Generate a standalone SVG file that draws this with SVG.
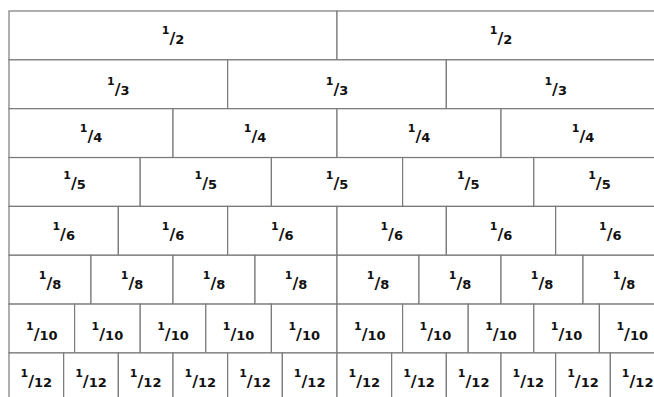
<svg xmlns="http://www.w3.org/2000/svg" width="654" height="397" viewBox="0 0 654 397">
<style>
.c{fill:#fff;stroke:#7a7a7a;stroke-width:1.2}
.t{font-family:"DejaVu Sans",Verdana,sans-serif;font-weight:bold;fill:#111;text-anchor:middle;font-size:13px}
.n{font-size:11px}
.s{font-size:16px}
</style>
<rect width="654" height="397" fill="#fff"/>
<g id="row2">
<g id="r2c1"><rect class="c" x="9" y="11" width="328" height="48.85"/><text class="t" x="173" y="44"><tspan class="n" dy="-10">1</tspan><tspan class="s" dy="10">/</tspan>2</text></g>
<g id="r2c2"><rect class="c" x="337" y="11" width="328" height="48.85"/><text class="t" x="501" y="44"><tspan class="n" dy="-10">1</tspan><tspan class="s" dy="10">/</tspan>2</text></g>
</g>
<g id="row3">
<g id="r3c1"><rect class="c" x="9" y="59.85" width="218.67" height="48.85"/><text class="t" x="118.33" y="95"><tspan class="n" dy="-10">1</tspan><tspan class="s" dy="10">/</tspan>3</text></g>
<g id="r3c2"><rect class="c" x="227.67" y="59.85" width="218.67" height="48.85"/><text class="t" x="337" y="95"><tspan class="n" dy="-10">1</tspan><tspan class="s" dy="10">/</tspan>3</text></g>
<g id="r3c3"><rect class="c" x="446.33" y="59.85" width="218.67" height="48.85"/><text class="t" x="555.67" y="95"><tspan class="n" dy="-10">1</tspan><tspan class="s" dy="10">/</tspan>3</text></g>
</g>
<g id="row4">
<g id="r4c1"><rect class="c" x="9" y="108.7" width="164" height="48.85"/><text class="t" x="91" y="141.7"><tspan class="n" dy="-10">1</tspan><tspan class="s" dy="10">/</tspan>4</text></g>
<g id="r4c2"><rect class="c" x="173" y="108.7" width="164" height="48.85"/><text class="t" x="255" y="141.7"><tspan class="n" dy="-10">1</tspan><tspan class="s" dy="10">/</tspan>4</text></g>
<g id="r4c3"><rect class="c" x="337" y="108.7" width="164" height="48.85"/><text class="t" x="419" y="141.7"><tspan class="n" dy="-10">1</tspan><tspan class="s" dy="10">/</tspan>4</text></g>
<g id="r4c4"><rect class="c" x="501" y="108.7" width="164" height="48.85"/><text class="t" x="583" y="141.7"><tspan class="n" dy="-10">1</tspan><tspan class="s" dy="10">/</tspan>4</text></g>
</g>
<g id="row5">
<g id="r5c1"><rect class="c" x="9" y="157.55" width="131.2" height="48.85"/><text class="t" x="74.6" y="189.3"><tspan class="n" dy="-10">1</tspan><tspan class="s" dy="10">/</tspan>5</text></g>
<g id="r5c2"><rect class="c" x="140.2" y="157.55" width="131.2" height="48.85"/><text class="t" x="205.8" y="189.3"><tspan class="n" dy="-10">1</tspan><tspan class="s" dy="10">/</tspan>5</text></g>
<g id="r5c3"><rect class="c" x="271.4" y="157.55" width="131.2" height="48.85"/><text class="t" x="337" y="189.3"><tspan class="n" dy="-10">1</tspan><tspan class="s" dy="10">/</tspan>5</text></g>
<g id="r5c4"><rect class="c" x="402.6" y="157.55" width="131.2" height="48.85"/><text class="t" x="468.2" y="189.3"><tspan class="n" dy="-10">1</tspan><tspan class="s" dy="10">/</tspan>5</text></g>
<g id="r5c5"><rect class="c" x="533.8" y="157.55" width="131.2" height="48.85"/><text class="t" x="599.4" y="189.3"><tspan class="n" dy="-10">1</tspan><tspan class="s" dy="10">/</tspan>5</text></g>
</g>
<g id="row6">
<g id="r6c1"><rect class="c" x="9" y="206.4" width="109.33" height="48.85"/><text class="t" x="63.67" y="240"><tspan class="n" dy="-10">1</tspan><tspan class="s" dy="10">/</tspan>6</text></g>
<g id="r6c2"><rect class="c" x="118.33" y="206.4" width="109.33" height="48.85"/><text class="t" x="173" y="240"><tspan class="n" dy="-10">1</tspan><tspan class="s" dy="10">/</tspan>6</text></g>
<g id="r6c3"><rect class="c" x="227.67" y="206.4" width="109.33" height="48.85"/><text class="t" x="282.33" y="240"><tspan class="n" dy="-10">1</tspan><tspan class="s" dy="10">/</tspan>6</text></g>
<g id="r6c4"><rect class="c" x="337" y="206.4" width="109.33" height="48.85"/><text class="t" x="391.67" y="240"><tspan class="n" dy="-10">1</tspan><tspan class="s" dy="10">/</tspan>6</text></g>
<g id="r6c5"><rect class="c" x="446.33" y="206.4" width="109.33" height="48.85"/><text class="t" x="501" y="240"><tspan class="n" dy="-10">1</tspan><tspan class="s" dy="10">/</tspan>6</text></g>
<g id="r6c6"><rect class="c" x="555.67" y="206.4" width="109.33" height="48.85"/><text class="t" x="610.33" y="240"><tspan class="n" dy="-10">1</tspan><tspan class="s" dy="10">/</tspan>6</text></g>
</g>
<g id="row8">
<g id="r8c1"><rect class="c" x="9" y="255.25" width="82" height="48.85"/><text class="t" x="50" y="289.3"><tspan class="n" dy="-10">1</tspan><tspan class="s" dy="10">/</tspan>8</text></g>
<g id="r8c2"><rect class="c" x="91" y="255.25" width="82" height="48.85"/><text class="t" x="132" y="289.3"><tspan class="n" dy="-10">1</tspan><tspan class="s" dy="10">/</tspan>8</text></g>
<g id="r8c3"><rect class="c" x="173" y="255.25" width="82" height="48.85"/><text class="t" x="214" y="289.3"><tspan class="n" dy="-10">1</tspan><tspan class="s" dy="10">/</tspan>8</text></g>
<g id="r8c4"><rect class="c" x="255" y="255.25" width="82" height="48.85"/><text class="t" x="296" y="289.3"><tspan class="n" dy="-10">1</tspan><tspan class="s" dy="10">/</tspan>8</text></g>
<g id="r8c5"><rect class="c" x="337" y="255.25" width="82" height="48.85"/><text class="t" x="378" y="289.3"><tspan class="n" dy="-10">1</tspan><tspan class="s" dy="10">/</tspan>8</text></g>
<g id="r8c6"><rect class="c" x="419" y="255.25" width="82" height="48.85"/><text class="t" x="460" y="289.3"><tspan class="n" dy="-10">1</tspan><tspan class="s" dy="10">/</tspan>8</text></g>
<g id="r8c7"><rect class="c" x="501" y="255.25" width="82" height="48.85"/><text class="t" x="542" y="289.3"><tspan class="n" dy="-10">1</tspan><tspan class="s" dy="10">/</tspan>8</text></g>
<g id="r8c8"><rect class="c" x="583" y="255.25" width="82" height="48.85"/><text class="t" x="624" y="289.3"><tspan class="n" dy="-10">1</tspan><tspan class="s" dy="10">/</tspan>8</text></g>
</g>
<g id="row10">
<g id="r10c1"><rect class="c" x="9" y="304.1" width="65.6" height="48.85"/><text class="t" x="41.8" y="340"><tspan class="n" dy="-10">1</tspan><tspan class="s" dy="10">/</tspan>10</text></g>
<g id="r10c2"><rect class="c" x="74.6" y="304.1" width="65.6" height="48.85"/><text class="t" x="107.4" y="340"><tspan class="n" dy="-10">1</tspan><tspan class="s" dy="10">/</tspan>10</text></g>
<g id="r10c3"><rect class="c" x="140.2" y="304.1" width="65.6" height="48.85"/><text class="t" x="173" y="340"><tspan class="n" dy="-10">1</tspan><tspan class="s" dy="10">/</tspan>10</text></g>
<g id="r10c4"><rect class="c" x="205.8" y="304.1" width="65.6" height="48.85"/><text class="t" x="238.6" y="340"><tspan class="n" dy="-10">1</tspan><tspan class="s" dy="10">/</tspan>10</text></g>
<g id="r10c5"><rect class="c" x="271.4" y="304.1" width="65.6" height="48.85"/><text class="t" x="304.2" y="340"><tspan class="n" dy="-10">1</tspan><tspan class="s" dy="10">/</tspan>10</text></g>
<g id="r10c6"><rect class="c" x="337" y="304.1" width="65.6" height="48.85"/><text class="t" x="369.8" y="340"><tspan class="n" dy="-10">1</tspan><tspan class="s" dy="10">/</tspan>10</text></g>
<g id="r10c7"><rect class="c" x="402.6" y="304.1" width="65.6" height="48.85"/><text class="t" x="435.4" y="340"><tspan class="n" dy="-10">1</tspan><tspan class="s" dy="10">/</tspan>10</text></g>
<g id="r10c8"><rect class="c" x="468.2" y="304.1" width="65.6" height="48.85"/><text class="t" x="501" y="340"><tspan class="n" dy="-10">1</tspan><tspan class="s" dy="10">/</tspan>10</text></g>
<g id="r10c9"><rect class="c" x="533.8" y="304.1" width="65.6" height="48.85"/><text class="t" x="566.6" y="340"><tspan class="n" dy="-10">1</tspan><tspan class="s" dy="10">/</tspan>10</text></g>
<g id="r10c10"><rect class="c" x="599.4" y="304.1" width="65.6" height="48.85"/><text class="t" x="632.2" y="340"><tspan class="n" dy="-10">1</tspan><tspan class="s" dy="10">/</tspan>10</text></g>
</g>
<g id="row12">
<g id="r12c1"><rect class="c" x="9" y="352.95" width="54.67" height="48.85"/><text class="t" x="36.33" y="387"><tspan class="n" dy="-10">1</tspan><tspan class="s" dy="10">/</tspan>12</text></g>
<g id="r12c2"><rect class="c" x="63.67" y="352.95" width="54.67" height="48.85"/><text class="t" x="91" y="387"><tspan class="n" dy="-10">1</tspan><tspan class="s" dy="10">/</tspan>12</text></g>
<g id="r12c3"><rect class="c" x="118.33" y="352.95" width="54.67" height="48.85"/><text class="t" x="145.67" y="387"><tspan class="n" dy="-10">1</tspan><tspan class="s" dy="10">/</tspan>12</text></g>
<g id="r12c4"><rect class="c" x="173" y="352.95" width="54.67" height="48.85"/><text class="t" x="200.33" y="387"><tspan class="n" dy="-10">1</tspan><tspan class="s" dy="10">/</tspan>12</text></g>
<g id="r12c5"><rect class="c" x="227.67" y="352.95" width="54.67" height="48.85"/><text class="t" x="255" y="387"><tspan class="n" dy="-10">1</tspan><tspan class="s" dy="10">/</tspan>12</text></g>
<g id="r12c6"><rect class="c" x="282.33" y="352.95" width="54.67" height="48.85"/><text class="t" x="309.67" y="387"><tspan class="n" dy="-10">1</tspan><tspan class="s" dy="10">/</tspan>12</text></g>
<g id="r12c7"><rect class="c" x="337" y="352.95" width="54.67" height="48.85"/><text class="t" x="364.33" y="387"><tspan class="n" dy="-10">1</tspan><tspan class="s" dy="10">/</tspan>12</text></g>
<g id="r12c8"><rect class="c" x="391.67" y="352.95" width="54.67" height="48.85"/><text class="t" x="419" y="387"><tspan class="n" dy="-10">1</tspan><tspan class="s" dy="10">/</tspan>12</text></g>
<g id="r12c9"><rect class="c" x="446.33" y="352.95" width="54.67" height="48.85"/><text class="t" x="473.67" y="387"><tspan class="n" dy="-10">1</tspan><tspan class="s" dy="10">/</tspan>12</text></g>
<g id="r12c10"><rect class="c" x="501" y="352.95" width="54.67" height="48.85"/><text class="t" x="528.33" y="387"><tspan class="n" dy="-10">1</tspan><tspan class="s" dy="10">/</tspan>12</text></g>
<g id="r12c11"><rect class="c" x="555.67" y="352.95" width="54.67" height="48.85"/><text class="t" x="583" y="387"><tspan class="n" dy="-10">1</tspan><tspan class="s" dy="10">/</tspan>12</text></g>
<g id="r12c12"><rect class="c" x="610.33" y="352.95" width="54.67" height="48.85"/><text class="t" x="637.67" y="387"><tspan class="n" dy="-10">1</tspan><tspan class="s" dy="10">/</tspan>12</text></g>
</g>
<g id="connectors"></g>
</svg>
